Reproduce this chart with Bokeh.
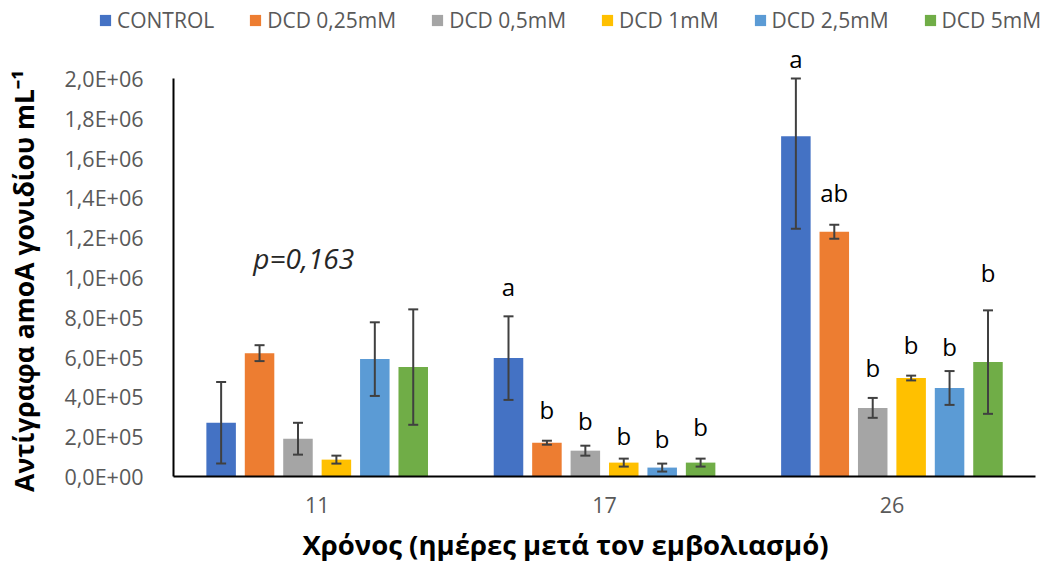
from bokeh.plotting import figure
from bokeh.models import (ColumnDataSource, Legend, LegendItem, LinearAxis,
                          CustomJSTickFormatter, FixedTicker, Range1d)
from bokeh.core.properties import value
from bokeh.embed import file_html
from bokeh.resources import INLINE

# ---------------- data ----------------
days = ["11", "17", "26"]
treatments = ["CONTROL", "DCD 0,25mM", "DCD 0,5mM", "DCD 1mM", "DCD 2,5mM", "DCD 5mM"]
colors = ["#4472C4", "#ED7D31", "#A5A5A5", "#FFC000", "#5B9BD5", "#70AD47"]

control = [2.70e5, 5.95e5, 1.71e6]
dcd_025 = [6.20e5, 1.70e5, 1.23e6]
dcd_05 = [1.90e5, 1.30e5, 3.45e5]
dcd_1 = [8.5e4, 7.0e4, 4.95e5]
dcd_25 = [5.90e5, 4.5e4, 4.45e5]
dcd_5 = [5.50e5, 7.0e4, 5.75e5]

control_err = [2.05e5, 2.10e5, 4.65e5]
dcd_025_err = [4.0e4, 1.0e4, 3.5e4]
dcd_05_err = [8.0e4, 2.5e4, 5.0e4]
dcd_1_err = [2.0e4, 2.0e4, 1.2e4]
dcd_25_err = [1.85e5, 2.0e4, 8.5e4]
dcd_5_err = [2.90e5, 2.0e4, 2.60e5]

# significance letters per treatment for days 11, 17, 26 and their heights
letters = [["", "a", "a"], ["", "b", "ab"], ["", "b", "b"],
           ["", "b", "b"], ["", "b", "b"], ["", "b", "b"]]
letters_y = [[0, 9.55e5, 2.10e6], [0, 3.35e5, 1.425e6], [0, 2.80e5, 5.50e5],
             [0, 2.05e5, 6.65e5], [0, 1.90e5, 6.55e5], [0, 2.50e5, 1.025e6]]

p_text = "p=0,163"
p_text_y = 1.10e6

y_ticks = [0, 2e5, 4e5, 6e5, 8e5, 1e6, 1.2e6, 1.4e6, 1.6e6, 1.8e6, 2.0e6]
y_axis_max = 2.0e6

means = [control, dcd_025, dcd_05, dcd_1, dcd_25, dcd_5]
errs = [control_err, dcd_025_err, dcd_05_err, dcd_1_err, dcd_25_err, dcd_5_err]

# ---------------- figure ----------------
FONT = "Open Sans"
GRAY = "#595959"
STEP = 0.1337   # distance between bar centres (in day-units)
BAR_W = 0.1027
day_pos = [i + 0.5 for i in range(len(days))]   # category centres

p = figure(width=1040, height=564,
           x_range=Range1d(-0.602, 3.017), y_range=Range1d(-0.442e6, 2.392e6),
           output_backend="svg", toolbar_location=None,
           min_border_left=0, min_border_right=0, min_border_top=0,
           min_border_bottom=0)
p.outline_line_color = None
p.xgrid.grid_line_color = None
p.ygrid.grid_line_color = None

renderers = []
for i, (name, col, m, e, let, ly) in enumerate(zip(treatments, colors, means, errs,
                                                   letters, letters_y)):
    xs = [c + (i - 2.5) * STEP for c in day_pos]
    src = ColumnDataSource(dict(x=xs, top=m,
                                lo=[a - b for a, b in zip(m, e)],
                                # Excel clips error bars at the axis maximum
                                hi=[min(a + b, y_axis_max) for a, b in zip(m, e)],
                                let=let, ly=ly))
    r = p.vbar(x="x", top="top", width=BAR_W, source=src, fill_color=col,
               line_color=None)
    renderers.append((name, r))
    p.segment(x0="x", x1="x", y0="lo", y1="hi", source=src,
              line_color="#404040", line_width=2)
    p.scatter(x="x", y="lo", source=src, marker="dash", size=10,
              line_color="#404040", line_width=2)
    p.scatter(x="x", y="hi", source=src, marker="dash", size=10,
              line_color="#404040", line_width=2)
    p.text(x="x", y="ly", text="let", source=src,
           text_font=value(FONT), text_font_size="24px", text_color="black",
           text_align="center", text_baseline="middle")

p.text(x=[day_pos[0] - 0.35 * STEP], y=[p_text_y], text=[p_text],
       text_font=value(FONT), text_font_size="28px", text_font_style="italic",
       text_color="#262626", text_align="center", text_baseline="middle")

# y axis (placed at the left edge of the category area)
ya = p.yaxis[0]
ya.fixed_location = 0
ya.ticker = FixedTicker(ticks=y_ticks)
ya.bounds = (0, y_axis_max)
ya.formatter = CustomJSTickFormatter(code="""
    const s = tick.toExponential(1);
    const parts = s.split('e');
    const mant = parts[0].replace('.', ',');
    let ex = parseInt(parts[1]);
    const sign = ex < 0 ? '-' : '+';
    ex = Math.abs(ex);
    return mant + 'E' + sign + (ex < 10 ? '0' + ex : '' + ex);
""")
ya.axis_label = "Αντίγραφα amoA γονιδίου  mL⁻¹"
ya.axis_label_text_font = FONT
ya.axis_label_text_font_style = "bold"
ya.axis_label_text_font_size = "26.5px"
ya.axis_label_text_color = "black"
ya.axis_label_standoff = 20
ya.major_label_text_font = FONT
ya.major_label_text_font_size = "21.5px"
ya.major_label_text_color = GRAY
ya.major_label_standoff = 24
ya.major_tick_line_color = None
ya.minor_tick_line_color = None
ya.axis_line_width = 2
ya.axis_line_color = "black"

# x axis: one label per sampling day
xa = p.xaxis[0]
xa.fixed_location = 0
xa.ticker = FixedTicker(ticks=day_pos)
xa.major_label_overrides = {c: d for c, d in zip(day_pos, days)}
xa.bounds = (0, 3.0)
xa.major_label_text_font = FONT
xa.major_label_text_font_size = "21.5px"
xa.major_label_text_color = GRAY
xa.major_tick_line_color = None
xa.minor_tick_line_color = None
xa.major_label_standoff = 14
xa.axis_line_width = 2
xa.axis_line_color = "black"

# x axis title, centred on the whole chart area as in the original
xt = LinearAxis(fixed_location=0, bounds=(0, 2.728),
                ticker=FixedTicker(ticks=[]),
                axis_line_color=None, major_tick_line_color=None,
                minor_tick_line_color=None,
                axis_label="Χρόνος (ημέρες μετά τον εμβολιασμό)",
                axis_label_text_font=FONT, axis_label_text_font_style="bold",
                axis_label_text_font_size="27.5px", axis_label_text_color="black",
                axis_label_standoff=49)
p.add_layout(xt, "below")

legend = Legend(items=[LegendItem(label=n, renderers=[r]) for n, r in renderers],
                orientation="horizontal", location=(98, 530),
                glyph_width=14, glyph_height=14, label_standoff=5, spacing=34,
                padding=0, margin=0, border_line_color=None,
                background_fill_alpha=0,
                label_text_font=FONT, label_text_font_size="21px",
                label_text_color=GRAY)
p.add_layout(legend)

open("out.html", "w").write(file_html(p, INLINE))
